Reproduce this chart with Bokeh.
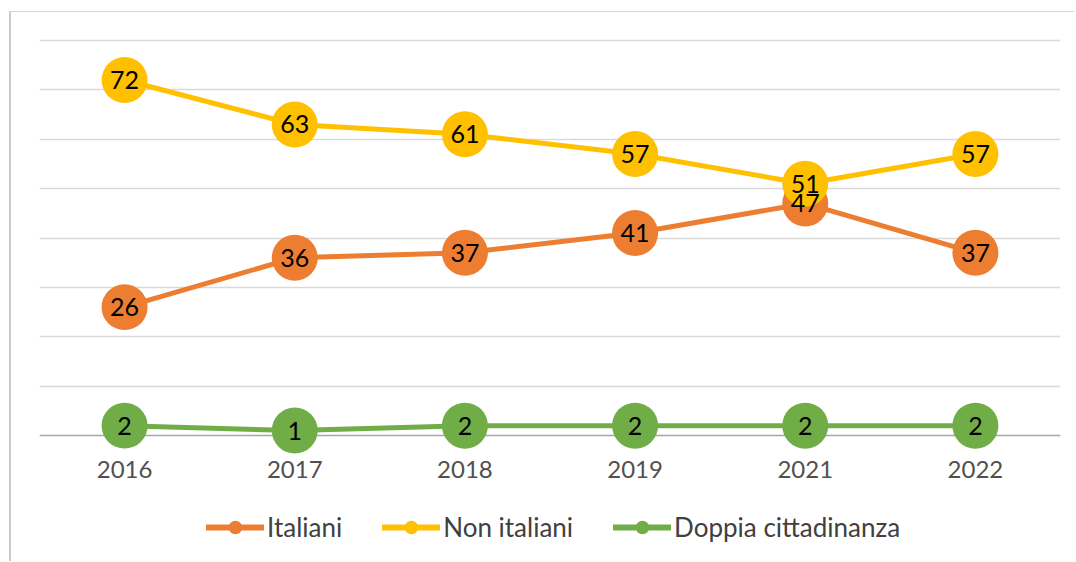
from bokeh.plotting import figure
from bokeh.layouts import column
from bokeh.models import (FactorRange, Range1d, Legend, LegendItem, Span, FixedTicker,
                          ColumnDataSource)
from bokeh.core.properties import value
from bokeh.embed import file_html
from bokeh.resources import INLINE

years = ["2016", "2017", "2018", "2019", "2021", "2022"]
italiani = [26, 36, 37, 41, 47, 37]
non_italiani = [72, 63, 61, 57, 51, 57]
doppia = [2, 1, 2, 2, 2, 2]
series_names = ["Italiani", "Non italiani", "Doppia cittadinanza"]
series_values = [italiani, non_italiani, doppia]
colors = ["#ED7D31", "#FFC000", "#70AD47"]
grid_ticks = [10, 20, 30, 40, 50, 60, 70, 80]

FONT = "Lato"

p = figure(
    x_range=FactorRange(factors=years, range_padding=0),
    y_range=Range1d(-4.05, 82.03),
    width=1065, height=488,
    output_backend="svg", toolbar_location=None,
    min_border_left=28, min_border_right=16,
    min_border_top=18, min_border_bottom=45,
)
p.margin = (11, 0, 0, 9)
p.styles = {"border-top": "1px solid #d9d9d9", "border-left": "2px solid #c9c9c9"}
p.outline_line_color = None
p.background_fill_color = "white"
p.border_fill_color = "white"

p.yaxis.visible = False
p.xgrid.visible = False
p.ygrid.ticker = FixedTicker(ticks=grid_ticks)
p.ygrid.grid_line_color = "#d9d9d9"
p.ygrid.grid_line_width = 1.5

p.add_layout(Span(location=0, dimension="width", line_color="#a6a6a6",
                  line_width=1.5, level="underlay"))

xa = p.xaxis[0]
xa.axis_line_color = None
xa.major_tick_line_color = None
xa.minor_tick_line_color = None
xa.major_tick_out = 0
xa.major_tick_in = 0
xa.major_label_text_font = FONT
xa.major_label_text_font_size = "24px"
xa.major_label_text_color = "#505050"
xa.major_label_standoff = 5

for name, vals, col in zip(series_names, series_values, colors):
    p.line(years, vals, line_color=col, line_width=5, line_join="round", line_cap="round")
    p.scatter(years, vals, size=46, fill_color=col, line_color=None)

for vals in series_values:
    p.text(years, vals, text=[str(v) for v in vals], text_align="center",
           text_baseline="middle", text_font=value(FONT), text_font_size="25px",
           text_color="black")

# legend strip below the chart (its renderers hold the series values, which lie
# outside this strip's ranges, so only their legend glyphs are shown)
q = figure(
    x_range=Range1d(-1, 0), y_range=Range1d(-1, 0),
    width=1065, height=62,
    output_backend="svg", toolbar_location=None,
    min_border_left=0, min_border_right=0, min_border_top=0, min_border_bottom=0,
)
q.margin = (0, 0, 0, 9)
q.styles = {"border-left": "2px solid #c9c9c9"}
q.axis.visible = False
q.grid.visible = False
q.outline_line_color = None
q.background_fill_color = "white"
q.border_fill_color = "white"

items = []
for name, vals, col in zip(series_names, series_values, colors):
    src = ColumnDataSource(data=dict(x=vals, y=vals))
    lr = q.line("x", "y", source=src, line_color=col, line_width=6, line_cap="round")
    sr = q.scatter("x", "y", source=src, size=14, fill_color=col, line_color=None)
    items.append(LegendItem(label=name, renderers=[lr, sr]))

legend = Legend(items=items, orientation="horizontal", location=(167, 17),
                glyph_width=58, glyph_height=34, label_standoff=3, spacing=40,
                padding=0, margin=0, border_line_color=None, background_fill_alpha=0,
                label_text_font=FONT, label_text_font_size="26px",
                label_text_color="#404040")
q.add_layout(legend, "center")

layout = column(p, q, spacing=0)
open("out.html", "w").write(file_html(layout, INLINE))
